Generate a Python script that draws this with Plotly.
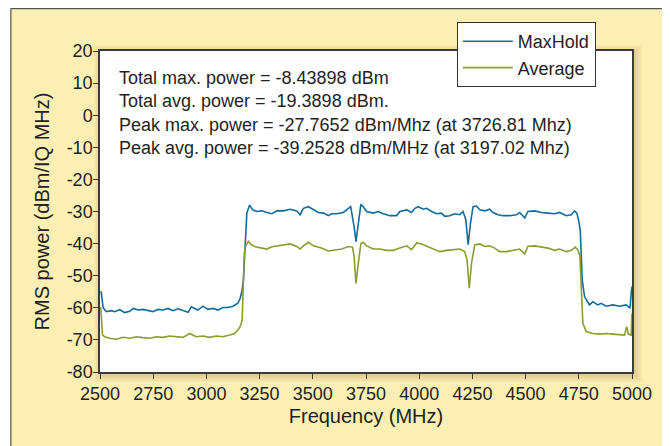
import plotly.graph_objects as go

# ---- data ----
freq_maxhold = [2505, 2515, 2530, 2554, 2569, 2593, 2616, 2640, 2656, 2679, 2702, 2725, 2749, 2772,
                2796, 2820, 2843, 2867, 2890, 2914, 2929, 2960, 2984, 3007, 3031, 3054, 3078, 3101,
                3125, 3148, 3159, 3168, 3174, 3182, 3190, 3203, 3218, 3237, 3261, 3284, 3308, 3331,
                3362, 3393, 3425, 3440, 3456, 3479, 3503, 3526, 3550, 3573, 3589, 3612, 3643, 3667,
                3678, 3694, 3703, 3714, 3726, 3737, 3753, 3784, 3808, 3831, 3862, 3894, 3909, 3941,
                3964, 3980, 3995, 4019, 4035, 4058, 4082, 4105, 4120, 4144, 4167, 4191, 4206, 4219,
                4230, 4241, 4253, 4269, 4285, 4308, 4331, 4347, 4370, 4394, 4425, 4457, 4472, 4496,
                4511, 4543, 4574, 4605, 4636, 4660, 4691, 4715, 4730, 4741, 4750, 4757, 4766, 4777,
                4800, 4816, 4839, 4855, 4879, 4910, 4941, 4973, 4991, 4996, 5000]
maxhold = [-54.8, -60.0, -61.2, -60.9, -61.2, -60.6, -61.5, -61.1, -60.2, -60.7, -60.5, -60.9, -61.2, -60.5,
           -60.7, -60.2, -60.9, -60.3, -60.9, -61.4, -59.7, -60.7, -59.5, -60.5, -60.2, -60.7, -59.9, -59.9,
           -59.5, -58.6, -57.0, -54.5, -51.3, -38.0, -30.5, -28.0, -29.5, -30.0, -29.8, -30.3, -30.7, -29.8,
           -29.8, -29.3, -29.8, -31.0, -29.0, -28.5, -29.3, -30.3, -30.5, -31.3, -30.7, -30.7, -30.3, -29.0,
           -28.5, -34.7, -39.4, -33.7, -27.8, -28.5, -30.0, -30.5, -30.0, -30.7, -31.3, -31.3, -30.0, -29.5,
           -30.3, -29.0, -28.5, -29.3, -29.0, -30.0, -30.7, -30.5, -31.5, -31.3, -30.7, -31.0, -30.0, -32.5,
           -40.3, -33.7, -28.5, -28.3, -29.5, -29.8, -29.3, -30.3, -31.0, -31.3, -31.3, -31.0, -30.3, -32.0,
           -30.0, -29.8, -30.3, -30.5, -30.7, -30.3, -31.3, -31.0, -29.8, -30.5, -33.0, -36.0, -51.3, -56.5,
           -59.1, -58.1, -59.1, -58.6, -59.5, -59.1, -59.5, -59.1, -60.1, -55.5, -53.4]

freq_average = [2503, 2512, 2522, 2546, 2577, 2609, 2640, 2671, 2702, 2734, 2765, 2796, 2827, 2858,
                2890, 2921, 2952, 2984, 3015, 3046, 3078, 3109, 3132, 3148, 3159, 3168, 3172, 3178,
                3186, 3197, 3210, 3230, 3261, 3284, 3308, 3331, 3362, 3393, 3425, 3440, 3456, 3479,
                3503, 3540, 3573, 3605, 3636, 3667, 3687, 3694, 3703, 3714, 3726, 3737, 3753, 3784,
                3816, 3847, 3878, 3909, 3941, 3964, 3988, 4011, 4035, 4066, 4097, 4128, 4160, 4191,
                4214, 4225, 4235, 4246, 4261, 4285, 4308, 4331, 4355, 4378, 4410, 4441, 4472, 4496,
                4511, 4543, 4574, 4605, 4636, 4660, 4691, 4715, 4733, 4745, 4755, 4763, 4769, 4785,
                4816, 4847, 4879, 4910, 4941, 4965, 4975, 4983, 4996, 5000]
average = [-59.8, -68.5, -69.0, -69.5, -69.8, -69.2, -69.5, -69.0, -69.3, -69.5, -69.0, -69.2, -68.8, -69.0,
           -69.2, -68.0, -69.0, -68.8, -69.2, -68.8, -69.0, -68.5, -68.0, -66.9, -65.8, -63.8, -52.0, -43.0,
           -40.5, -39.3, -40.3, -41.0, -41.4, -41.7, -41.0, -40.7, -40.4, -40.1, -40.9, -41.7, -40.7, -39.6,
           -40.7, -41.4, -42.3, -42.0, -41.7, -40.9, -41.1, -44.0, -52.4, -46.0, -40.0, -39.6, -40.7, -41.7,
           -41.7, -42.1, -42.1, -41.4, -40.7, -41.9, -39.8, -40.1, -40.7, -41.7, -42.5, -42.1, -41.9, -41.7,
           -42.5, -45.1, -53.9, -46.1, -40.4, -40.1, -40.9, -40.7, -41.4, -42.5, -42.5, -42.1, -41.7, -43.2,
           -40.8, -40.7, -41.1, -41.4, -42.1, -41.7, -42.5, -42.1, -41.1, -41.9, -43.8, -54.5, -64.8, -67.4,
           -68.0, -68.2, -68.0, -68.2, -68.5, -68.5, -65.9, -68.2, -68.5, -61.7]

x_ticks = [2500, 2750, 3000, 3250, 3500, 3750, 4000, 4250, 4500, 4750, 5000]
y_ticks = [20, 10, 0, -10, -20, -30, -40, -50, -60, -70, -80]
info_lines = ["Total max. power = -8.43898 dBm",
              "Total avg. power = -19.3898 dBm.",
              "Peak max. power = -27.7652 dBm/Mhz (at 3726.81 Mhz)",
              "Peak avg. power = -39.2528 dBm/MHz (at 3197.02 Mhz)"]

# ---- layout geometry (page pixels; the page body adds an 8px offset) ----
OFF = 8
W, H = 670 - OFF, 446 - OFF
PL, PR, PT, PB = 99.5, 632.5, 51, 372          # plot area in page pixels
L, T = PL - OFF, PT - OFF
R, B = W - (PR - OFF), H - (PB - OFF)
PW, PH = W - L - R, H - T - B

def px(X):
    return (X - OFF - L) / PW

def py(Y):
    return (H - B - (Y - OFF)) / PH

FONT = "Liberation Sans, Arial, sans-serif"
FS = 18
TXT = "#231f20"
AX = "#3a3a3a"
BLUE = "#0f6d9d"
GREEN = "#8c9d2c"

fig = go.Figure()
fig.add_trace(go.Scatter(x=freq_maxhold, y=maxhold, mode="lines", name="MaxHold",
                         line=dict(color=BLUE, width=1.6)))
fig.add_trace(go.Scatter(x=freq_average, y=average, mode="lines", name="Average",
                         line=dict(color=GREEN, width=1.6)))

shapes = []
# soft shadow around the plot area
for i in range(4):
    d = 2 + 2 * i
    shapes.append(dict(type="rect", xref="paper", yref="paper", layer="below",
                       x0=px(PL - d + 2), x1=px(PR + d + 2),
                       y0=py(PB + d + 2), y1=py(PT - d + 2),
                       fillcolor="#8a6d10", opacity=0.06, line=dict(width=0)))
# white plotting area
shapes.append(dict(type="rect", xref="paper", yref="paper", layer="below",
                   x0=0, x1=1, y0=0, y1=1, fillcolor="white", line=dict(width=0)))
# white strip + panel border on the left, border on top
shapes.append(dict(type="rect", xref="paper", yref="paper", layer="above",
                   x0=px(OFF - 2), x1=px(9.5), y0=py(450), y1=py(OFF - 2),
                   fillcolor="white", line=dict(width=0)))
shapes.append(dict(type="line", xref="paper", yref="paper", layer="above",
                   x0=px(10.2), x1=px(680), y0=py(8.6), y1=py(8.6), line=dict(color="#555", width=1.2)))
shapes.append(dict(type="line", xref="paper", yref="paper", layer="above",
                   x0=px(10.2), x1=px(10.2), y0=py(8.6), y1=py(460), line=dict(color="#555", width=1.2)))

fig.update_layout(
    width=W, height=H,
    margin=dict(l=L, r=R, t=T, b=B, autoexpand=False),
    paper_bgcolor="#fcefb4",
    plot_bgcolor="rgba(0,0,0,0)",
    font=dict(family=FONT, size=FS, color=TXT),
    shapes=shapes,
    showlegend=True,
    legend=dict(x=px(457), y=py(22), xanchor="left", yanchor="top",
                bgcolor="white", bordercolor="#333", borderwidth=1,
                font=dict(family=FONT, size=FS, color=TXT),
                itemwidth=50, tracegroupgap=0),
    annotations=[dict(xref="paper", yref="paper", x=px(117), y=py(66),
                      xanchor="left", yanchor="top", align="left", showarrow=False,
                      text="<br>".join(info_lines),
                      font=dict(family=FONT, size=FS, color=TXT))],
)
fig.update_xaxes(range=[2500, 5000], tickvals=x_ticks, ticktext=[str(v) for v in x_ticks],
                 ticks="outside", ticklen=5, tickwidth=1.3, tickcolor=AX,
                 showline=True, mirror=True, linecolor=AX, linewidth=1.5,
                 showgrid=False, zeroline=False,
                 tickfont=dict(family=FONT, size=FS, color=TXT),
                 title=dict(text="Frequency (MHz)", font=dict(family=FONT, size=20, color=TXT), standoff=6))
fig.update_yaxes(range=[-80, 20], tickvals=y_ticks, ticktext=[str(v) for v in y_ticks],
                 ticks="outside", ticklen=5, tickwidth=1.3, tickcolor=AX,
                 showline=True, mirror=True, linecolor=AX, linewidth=1.5,
                 showgrid=False, zeroline=False, ticklabelstandoff=-3,
                 tickfont=dict(family=FONT, size=FS, color=TXT),
                 title=dict(text="RMS power (dBm/IQ MHz)", font=dict(family=FONT, size=20, color=TXT), standoff=12))

fig.write_html("out.html")
